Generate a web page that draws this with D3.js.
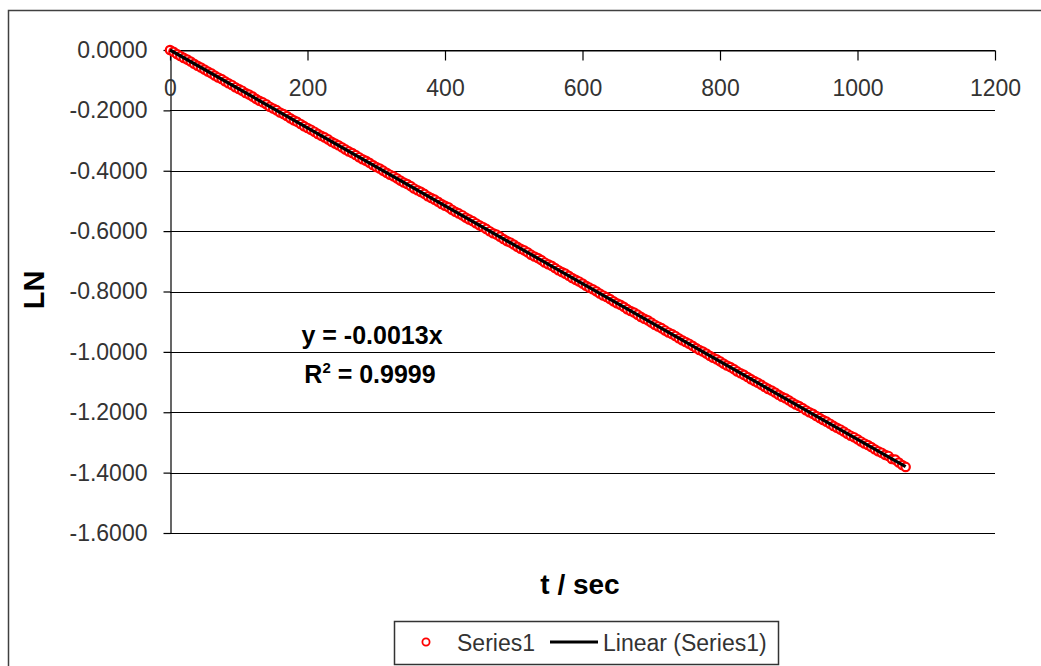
<!DOCTYPE html>
<html>
<head>
<meta charset="utf-8">
<script src="https://cdn.jsdelivr.net/npm/d3@7"></script>
<style>
  body { margin: 0; background: #fff; }
  svg { display: block; font-family: "Liberation Sans", Arial, sans-serif; }
</style>
</head>
<body>
<script>
// time in seconds
const tValues = [0, 5, 10, 15, 20, 25, 30, 35, 40, 45, 50, 55, 60, 65, 70, 75, 80, 85, 90, 95,
  100, 105, 110, 115, 120, 125, 130, 135, 140, 145, 150, 155, 160, 165, 170, 175, 180, 185, 190, 195,
  200, 205, 210, 215, 220, 225, 230, 235, 240, 245, 250, 255, 260, 265, 270, 275, 280, 285, 290, 295,
  300, 305, 310, 315, 320, 325, 330, 335, 340, 345, 350, 355, 360, 365, 370, 375, 380, 385, 390, 395,
  400, 405, 410, 415, 420, 425, 430, 435, 440, 445, 450, 455, 460, 465, 470, 475, 480, 485, 490, 495,
  500, 505, 510, 515, 520, 525, 530, 535, 540, 545, 550, 555, 560, 565, 570, 575, 580, 585, 590, 595,
  600, 605, 610, 615, 620, 625, 630, 635, 640, 645, 650, 655, 660, 665, 670, 675, 680, 685, 690, 695,
  700, 705, 710, 715, 720, 725, 730, 735, 740, 745, 750, 755, 760, 765, 770, 775, 780, 785, 790, 795,
  800, 805, 810, 815, 820, 825, 830, 835, 840, 845, 850, 855, 860, 865, 870, 875, 880, 885, 890, 895,
  900, 905, 910, 915, 920, 925, 930, 935, 940, 945, 950, 955, 960, 965, 970, 975, 980, 985, 990, 995,
  1000, 1005, 1010, 1015, 1020, 1025, 1030, 1035, 1040, 1045, 1050, 1055, 1060, 1065, 1070];

// LN values
const lnValues = [0.0000, -0.0058, -0.0135, -0.0197, -0.0262, -0.0318, -0.0381, -0.0457, -0.0523, -0.0581,
  -0.0648, -0.0716, -0.0771, -0.0845, -0.0910, -0.0962, -0.1036, -0.1103, -0.1158, -0.1232,
  -0.1294, -0.1349, -0.1425, -0.1478, -0.1543, -0.1619, -0.1682, -0.1735, -0.1801, -0.1878,
  -0.1940, -0.1992, -0.2071, -0.2124, -0.2188, -0.2264, -0.2330, -0.2381, -0.2449, -0.2522,
  -0.2583, -0.2640, -0.2706, -0.2779, -0.2844, -0.2896, -0.2961, -0.3040, -0.3100, -0.3155,
  -0.3221, -0.3293, -0.3359, -0.3412, -0.3480, -0.3551, -0.3617, -0.3669, -0.3735, -0.3812,
  -0.3874, -0.3927, -0.3996, -0.4069, -0.4131, -0.4185, -0.4252, -0.4326, -0.4389, -0.4441,
  -0.4509, -0.4586, -0.4648, -0.4700, -0.4766, -0.4844, -0.4905, -0.4957, -0.5027, -0.5101,
  -0.5160, -0.5213, -0.5291, -0.5358, -0.5413, -0.5472, -0.5552, -0.5611, -0.5668, -0.5738,
  -0.5809, -0.5862, -0.5927, -0.6003, -0.6070, -0.6116, -0.6183, -0.6262, -0.6331, -0.6378,
  -0.6444, -0.6520, -0.6585, -0.6637, -0.6702, -0.6779, -0.6842, -0.6893, -0.6960, -0.7037,
  -0.7098, -0.7151, -0.7221, -0.7294, -0.7355, -0.7409, -0.7478, -0.7551, -0.7614, -0.7667,
  -0.7735, -0.7810, -0.7873, -0.7925, -0.7994, -0.8068, -0.8131, -0.8183, -0.8252, -0.8327,
  -0.8390, -0.8440, -0.8509, -0.8585, -0.8646, -0.8697, -0.8767, -0.8842, -0.8905, -0.8956,
  -0.9027, -0.9100, -0.9157, -0.9214, -0.9289, -0.9356, -0.9410, -0.9472, -0.9549, -0.9615,
  -0.9672, -0.9730, -0.9800, -0.9873, -0.9936, -0.9989, -1.0054, -1.0131, -1.0196, -1.0247,
  -1.0314, -1.0389, -1.0452, -1.0505, -1.0571, -1.0647, -1.0710, -1.0762, -1.0832, -1.0904,
  -1.0968, -1.1021, -1.1090, -1.1162, -1.1226, -1.1279, -1.1348, -1.1420, -1.1486, -1.1537,
  -1.1602, -1.1678, -1.1745, -1.1795, -1.1861, -1.1936, -1.1999, -1.2053, -1.2124, -1.2194,
  -1.2259, -1.2311, -1.2380, -1.2452, -1.2515, -1.2569, -1.2637, -1.2710, -1.2776, -1.2827,
  -1.2895, -1.2968, -1.3034, -1.3085, -1.3152, -1.3227, -1.3291, -1.3340, -1.3411, -1.3448,
  -1.3548, -1.3570, -1.3664, -1.3748, -1.3810];

const trendSlope = -0.00129;
const equationText = "y = -0.0013x";
const r2Text = "0.9999";

const xTicks = [0, 200, 400, 600, 800, 1000, 1200];
const yTicks = [0, -0.2, -0.4, -0.6, -0.8, -1.0, -1.2, -1.4, -1.6];

const legendLabels = ["Series1", "Linear (Series1)"];

const width = 1041;
const height = 666;

const svg = d3.select('body')
  .append('svg')
  .attr('width', width)
  .attr('height', height);

// outer chart border (runs off the right and bottom of the picture)
svg.append('rect')
  .attr('x', 8.5)
  .attr('y', 10.5)
  .attr('width', 1100)
  .attr('height', 700)
  .attr('fill', '#fff')
  .attr('stroke', '#404040')
  .attr('stroke-width', 1.5);

const x = d3.scaleLinear().domain([0, 1200]).range([170, 995]);
const y = d3.scaleLinear().domain([-1.6, 0]).range([533, 50]);

// horizontal gridlines
svg.append('g')
  .selectAll('line')
  .data(yTicks)
  .join('line')
    .attr('x1', x(0))
    .attr('x2', x(1200))
    .attr('y1', d => Math.round(y(d)) + 0.5)
    .attr('y2', d => Math.round(y(d)) + 0.5)
    .attr('stroke', '#000')
    .attr('stroke-width', 1.2);

// y axis
const yAxis = svg.append('g')
  .attr('transform', `translate(${x(0) + 0.5},0)`)
  .call(d3.axisLeft(y)
    .tickValues(yTicks)
    .tickFormat(d => d.toFixed(4))
    .tickSize(7)
    .tickSizeOuter(0)
    .tickPadding(16));

// x axis sits on y = 0
const xAxis = svg.append('g')
  .attr('transform', `translate(0,${Math.round(y(0)) + 0.5})`)
  .call(d3.axisBottom(x)
    .tickValues(xTicks)
    .tickFormat(d3.format('d'))
    .tickSize(10)
    .tickSizeOuter(0)
    .tickPadding(19));

[yAxis, xAxis].forEach(a => {
  a.selectAll('path, line').attr('stroke', '#000').attr('stroke-width', 1.2);
  a.selectAll('text')
    .attr('fill', '#333')
    .style('font-size', '23px')
    .style('font-family', '"Liberation Sans", Arial, sans-serif');
});

// data points
svg.append('g')
  .selectAll('circle')
  .data(tValues)
  .join('circle')
    .attr('cx', d => x(d))
    .attr('cy', (d, i) => y(lnValues[i]))
    .attr('r', 4.2)
    .attr('fill', '#fff')
    .attr('stroke', '#ff0000')
    .attr('stroke-width', 2.2);

// linear trendline through the origin
const tMax = d3.max(tValues);
svg.append('line')
  .attr('x1', x(0))
  .attr('y1', y(0))
  .attr('x2', x(tMax))
  .attr('y2', y(trendSlope * tMax))
  .attr('stroke', '#000')
  .attr('stroke-width', 3.2);

// trendline label
svg.append('text')
  .attr('x', 372)
  .attr('y', 344)
  .attr('text-anchor', 'middle')
  .style('font-size', '25px')
  .style('font-weight', 'bold')
  .text(equationText);

const r2 = svg.append('text')
  .attr('x', 370)
  .attr('y', 383)
  .attr('text-anchor', 'middle')
  .style('font-size', '25px')
  .style('font-weight', 'bold');
r2.append('tspan').text('R');
r2.append('tspan').attr('dy', -10).style('font-size', '15px').text('2');
r2.append('tspan').attr('dy', 10).text(' = ' + r2Text);

// axis titles
svg.append('text')
  .attr('x', 580)
  .attr('y', 594)
  .attr('text-anchor', 'middle')
  .style('font-size', '28px')
  .style('font-weight', 'bold')
  .text('t / sec');

svg.append('text')
  .attr('transform', 'translate(44,290) rotate(-90)')
  .attr('text-anchor', 'middle')
  .style('font-size', '29px')
  .style('font-weight', 'bold')
  .text('LN');

// legend
const legend = svg.append('g');
legend.append('rect')
  .attr('x', 394.5)
  .attr('y', 621.5)
  .attr('width', 384)
  .attr('height', 43)
  .attr('fill', '#fff')
  .attr('stroke', '#333')
  .attr('stroke-width', 1.5);
legend.append('circle')
  .attr('cx', 426)
  .attr('cy', 642)
  .attr('r', 3.6)
  .attr('fill', '#fff')
  .attr('stroke', '#ff0000')
  .attr('stroke-width', 1.8);
legend.append('text')
  .attr('x', 457)
  .attr('y', 651)
  .style('font-size', '23px')
  .attr('fill', '#333')
  .text(legendLabels[0]);
legend.append('line')
  .attr('x1', 550)
  .attr('x2', 598)
  .attr('y1', 642)
  .attr('y2', 642)
  .attr('stroke', '#000')
  .attr('stroke-width', 3);
legend.append('text')
  .attr('x', 603)
  .attr('y', 651)
  .style('font-size', '23px')
  .attr('fill', '#333')
  .text(legendLabels[1]);
</script>
</body>
</html>
